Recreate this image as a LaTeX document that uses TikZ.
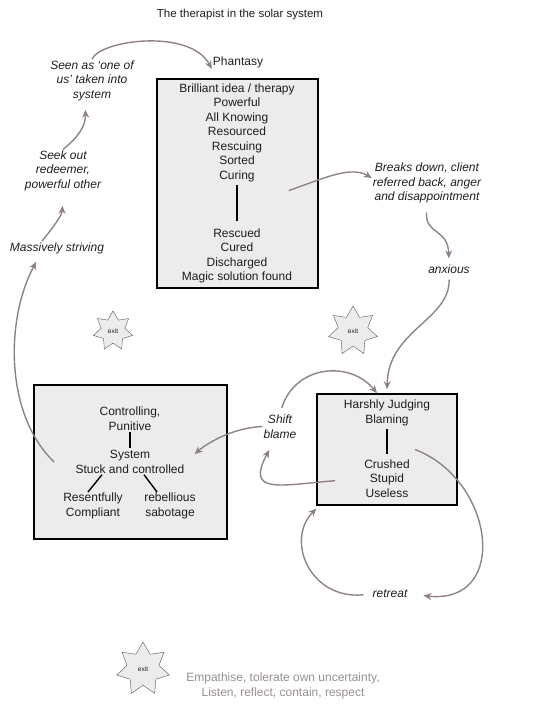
\documentclass[tikz,border=0pt]{standalone}
\usepackage{fontspec}
\setmainfont{Liberation Sans}
\usetikzlibrary{arrows.meta,shapes.geometric,positioning}

\definecolor{boxgray}{RGB}{236,236,236}
\definecolor{flowgray}{RGB}{145,130,130}
\definecolor{inkgray}{RGB}{30,30,30}
\definecolor{softgray}{RGB}{150,142,148}

\tikzset{
	panel/.style={draw=black,line width=1.6pt,fill=boxgray,inner sep=0pt},
	word/.style={align=center,inner sep=1pt,text=inkgray,font=\fontsize{12}{14.5}\selectfont},
	thought/.style={word,font=\fontsize{12}{14.5}\selectfont\itshape},
	flow/.style={draw=flowgray,line width=1.4pt,-{Stealth[length=8pt,width=7pt]}},
	tie/.style={draw=black,line width=1.4pt},
	exitstar/.style={star,star points=7,star point ratio=1.65,draw=black!65,fill=boxgray,inner sep=0pt,text=inkgray,font=\fontsize{6.5}{7}\selectfont}
}

\begin{document}
\begin{tikzpicture}[x=1pt,y=-1pt]
	\useasboundingbox (0,0) rectangle (560,721);
	\node[word,font=\fontsize{11.5}{14}\selectfont] (title) at (240,15) {The therapist in the solar system};
	\node[word] (phantasy) at (238,62) {Phantasy};

	\node[panel,minimum width=161pt,minimum height=209pt] (fantasybox) at (237.5,183.5) {};
	\node[panel,minimum width=193pt,minimum height=154pt] (systembox) at (130.5,462) {};
	\node[panel,minimum width=140pt,minimum height=111pt] (judgebox) at (387,449.5) {};

	\node[word] (ideas) at (237,132.5) {Brilliant idea / therapy\\Powerful\\All Knowing\\Resourced\\Rescuing\\Sorted\\Curing};
	\node[word] (results) at (237,256) {Rescued\\Cured\\Discharged\\Magic solution found};
	\node[word] (control) at (130,418.5) {Controlling,\\Punitive};
	\node[word] (stuck) at (130,462) {System\\Stuck and controlled};
	\node[word] (comply) at (93,506) {Resentfully\\Compliant};
	\node[word] (sabotage) at (170,506) {rebellious\\sabotage};
	\node[word] (judge) at (387,413) {Harshly Judging\\Blaming};
	\node[word] (crushed) at (387,478.5) {Crushed\\Stupid\\Useless};

	\node[thought] (seen) at (92,80.5) {Seen as `one of\\us' taken into\\system};
	\node[thought] (seek) at (63,170.5) {Seek out\\redeemer,\\powerful other};
	\node[thought] (strive) at (57,248) {Massively striving};
	\node[thought] (breaks) at (427,183) {Breaks down, client\\referred back, anger\\and disappointment};
	\node[thought] (anxious) at (449,269) {anxious};
	\node[thought] (shift) at (280,426.5) {Shift\\blame};
	\node[thought] (retreat) at (390,594) {retreat};

	\node[exitstar,minimum size=40pt] (exitA) at (113,331) {exit};
	\node[exitstar,minimum size=50pt] (exitB) at (353,331) {exit};
	\node[exitstar,minimum size=54pt] (exitC) at (143,669) {exit};
	\node[word,text=softgray] (advice) at (283,686) {Empathise, tolerate own uncertainty,\\Listen, reflect, contain, respect};

	\draw[tie,shorten <=2pt,shorten >=6pt] (ideas) -- (results);
	\draw[tie,shorten <=1pt,shorten >=1pt] (control) -- (stuck);
	\draw[tie] ([xshift=-28pt]stuck.south) -- ([xshift=-5pt]comply.north);
	\draw[tie] ([xshift=14pt]stuck.south) -- ([xshift=-13pt]sabotage.north);
	\draw[tie,shorten <=2pt,shorten >=4pt] (judge) -- (crushed);

	\draw[flow] (seen.north) .. controls (100,40) and (190,28) .. (phantasy.south west);
	\draw[flow,shorten >=8pt] (seek.north) .. controls (78,138) and (86,125) .. ([xshift=-7pt]seen.south);
	\draw[flow,shorten >=14pt] ([xshift=-15pt]strive.north) .. controls (55,225) and (62,215) .. (seek.south);
	\draw[flow,shorten >=8pt] ([xshift=21pt]systembox.west) .. controls (5,415) and (5,320) .. ([xshift=-17pt]strive.south);
	\draw[flow] ([xshift=-30pt,yshift=-7pt]fantasybox.east) .. controls (320,180) and (350,165) .. ([yshift=5pt]breaks.west);
	\draw[flow,shorten <=8pt,shorten >=5pt] (breaks.south) .. controls (425,235) and (448,228) .. (anxious.north);
	\draw[flow,shorten <=5pt,shorten >=4pt] (anxious.south) .. controls (450,320) and (388,330) .. (judgebox.north);
	\draw[flow,shorten >=12pt] (shift.west) .. controls (230,428) and (205,445) .. (stuck.east);
	\draw[flow,shorten <=6pt] (shift.north) .. controls (295,365) and (350,360) .. ([xshift=-10pt]judgebox.north);
	\draw[flow,shorten <=28pt,shorten >=12pt] (crushed.west) .. controls (280,485) and (245,495) .. ([xshift=-5pt]shift.south);
	\draw[flow,shorten >=15pt] ([xshift=28pt]judgebox.center) .. controls (495,480) and (510,605) .. (retreat.east);
	\draw[flow,shorten <=8pt,shorten >=4pt] (retreat.west) .. controls (310,600) and (285,540) .. ([xshift=3pt]judgebox.south west);
\end{tikzpicture}
\end{document}
